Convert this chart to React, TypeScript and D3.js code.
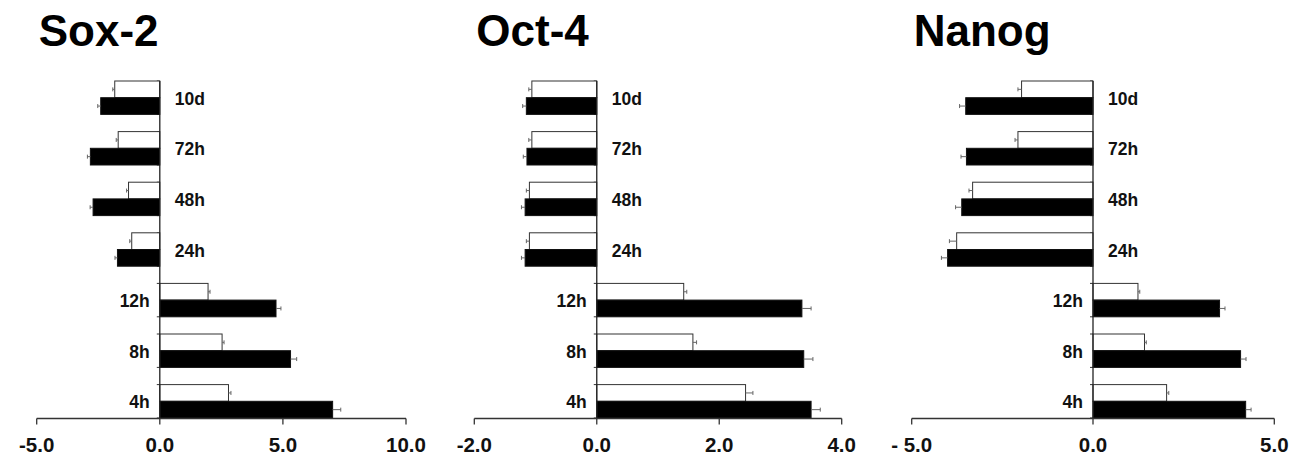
import React from "react";
import * as d3 from "d3";

const categories = ["10d", "72h", "48h", "24h", "12h", "8h", "4h"];

const soxWhite = [-1.83, -1.69, -1.27, -1.14, 1.96, 2.53, 2.79];
const soxBlack = [-2.4, -2.82, -2.71, -1.72, 4.72, 5.31, 7.02];
const soxWhiteErr = [0.08, 0.08, 0.08, 0.08, 0.08, 0.08, 0.1];
const soxBlackErr = [0.12, 0.12, 0.12, 0.1, 0.2, 0.25, 0.33];
const soxTicks = [-5, 0, 5, 10];
const soxTickLabels = ["-5.0", "0.0", "5.0", "10.0"];

const octWhite = [-1.06, -1.06, -1.1, -1.1, 1.42, 1.57, 2.43];
const octBlack = [-1.15, -1.14, -1.17, -1.17, 3.35, 3.38, 3.5];
const octWhiteErr = [0.05, 0.05, 0.05, 0.05, 0.05, 0.06, 0.12];
const octBlackErr = [0.06, 0.06, 0.06, 0.06, 0.15, 0.15, 0.15];
const octTicks = [-2, 0, 2, 4];
const octTickLabels = ["-2.0", "0.0", "2.0", "4.0"];

const nanogWhite = [-1.97, -2.07, -3.32, -3.76, 1.24, 1.42, 2.03];
const nanogBlack = [-3.51, -3.49, -3.62, -4.01, 3.49, 4.07, 4.21];
const nanogWhiteErr = [0.1, 0.08, 0.1, 0.2, 0.05, 0.05, 0.06];
const nanogBlackErr = [0.17, 0.15, 0.17, 0.17, 0.15, 0.15, 0.15];
const nanogTicks = [-5, 0, 5];
const nanogTickLabels = ["- 5.0", "0.0", "5.0"];

const FONT = "'Liberation Sans', Arial, Helvetica, sans-serif";

type PanelProps = {
  title: string;
  white: number[];
  black: number[];
  whiteErr: number[];
  blackErr: number[];
  ticks: number[];
  tickLabels: string[];
  x0: number;
  x1: number;
};

function Panel(p: PanelProps) {
  const dom: [number, number] = [p.ticks[0], p.ticks[p.ticks.length - 1]];
  const x = d3.scaleLinear().domain(dom).range([p.x0, p.x1]);
  const y = d3
    .scaleBand<string>()
    .domain(categories)
    .range([81, 418])
    .paddingInner(0.34)
    .paddingOuter(0);
  const inner = d3
    .scaleBand<string>()
    .domain(["white", "black"])
    .range([0, y.bandwidth()]);
  const axisY = 418.5;
  const zx = x(0);

  const bars: React.ReactNode[] = [];
  categories.forEach((c, i) => {
    const top = y(c) as number;
    const bottom = top + y.bandwidth();
    bars.push(
      <g key={c + "ticks"}>
        <line x1={zx - 3} x2={zx} y1={top} y2={top} stroke="#333" strokeWidth={1} />
        <line x1={zx - 3} x2={zx} y1={bottom} y2={bottom} stroke="#333" strokeWidth={1} />
      </g>
    );
    const series = [
      { key: "white", v: p.white[i], e: p.whiteErr[i], fill: "#fff" },
      { key: "black", v: p.black[i], e: p.blackErr[i], fill: "#000" },
    ];
    series.forEach((s) => {
      const by = top + (inner(s.key) as number);
      const bh = inner.bandwidth();
      const xa = Math.min(x(0), x(s.v));
      const w = Math.abs(x(s.v) - x(0));
      const sign = s.v >= 0 ? 1 : -1;
      const ex = x(s.v + sign * s.e);
      const cy = by + bh / 2;
      bars.push(
        <g key={c + s.key}>
          <rect
            x={xa}
            y={by}
            width={w}
            height={bh}
            fill={s.fill}
            stroke={s.key === "white" ? "#333" : "#111"}
            strokeWidth={1}
          />
          <line x1={x(s.v)} x2={ex} y1={cy} y2={cy} stroke="#666" strokeWidth={1} />
          <line x1={ex} x2={ex} y1={cy - 2} y2={cy + 2} stroke="#666" strokeWidth={1} />
        </g>
      );
    });
    const neg = p.black[i] < 0;
    const gy = top + y.bandwidth() / 2 + 7;
    bars.push(
      <text
        key={c + "lab"}
        x={neg ? zx + 15 : zx - 10}
        y={gy}
        textAnchor={neg ? "start" : "end"}
        fontFamily={FONT}
        fontWeight="bold"
        fontSize={17.5}
        fill="#111"
      >
        {c}
      </text>
    );
  });

  return (
    <g>
      <text
        x={p.x0 + 2}
        y={46}
        fontFamily={FONT}
        fontWeight="bold"
        fontSize={44}
        fill="#000"
      >
        {p.title}
      </text>
      {bars}
      <line x1={zx} x2={zx} y1={81} y2={axisY} stroke="#222" strokeWidth={1.3} />
      <line x1={p.x0} x2={p.x1} y1={axisY} y2={axisY} stroke="#333" strokeWidth={1.3} />
      {p.ticks.map((t, i) => (
        <g key={t}>
          <line x1={x(t)} x2={x(t)} y1={axisY} y2={axisY + 6} stroke="#333" strokeWidth={1.3} />
          <text
            x={x(t)}
            y={451.5}
            textAnchor="middle"
            fontFamily={FONT}
            fontWeight="bold"
            fontSize={20.5}
            fill="#111"
          >
            {p.tickLabels[i]}
          </text>
        </g>
      ))}
    </g>
  );
}

export default function App() {
  return (
    <svg
      width={1301}
      height={455}
      style={{ position: "absolute", left: 0, top: 0, background: "#fff" }}
    >
      <rect width={1301} height={455} fill="#fff" />
      <Panel
        title="Sox-2"
        white={soxWhite}
        black={soxBlack}
        whiteErr={soxWhiteErr}
        blackErr={soxBlackErr}
        ticks={soxTicks}
        tickLabels={soxTickLabels}
        x0={36.7}
        x1={406}
      />
      <Panel
        title="Oct-4"
        white={octWhite}
        black={octBlack}
        whiteErr={octWhiteErr}
        blackErr={octBlackErr}
        ticks={octTicks}
        tickLabels={octTickLabels}
        x0={474.3}
        x1={841.7}
      />
      <Panel
        title="Nanog"
        white={nanogWhite}
        black={nanogBlack}
        whiteErr={nanogWhiteErr}
        blackErr={nanogBlackErr}
        ticks={nanogTicks}
        tickLabels={nanogTickLabels}
        x0={911.7}
        x1={1274.3}
      />
    </svg>
  );
}
